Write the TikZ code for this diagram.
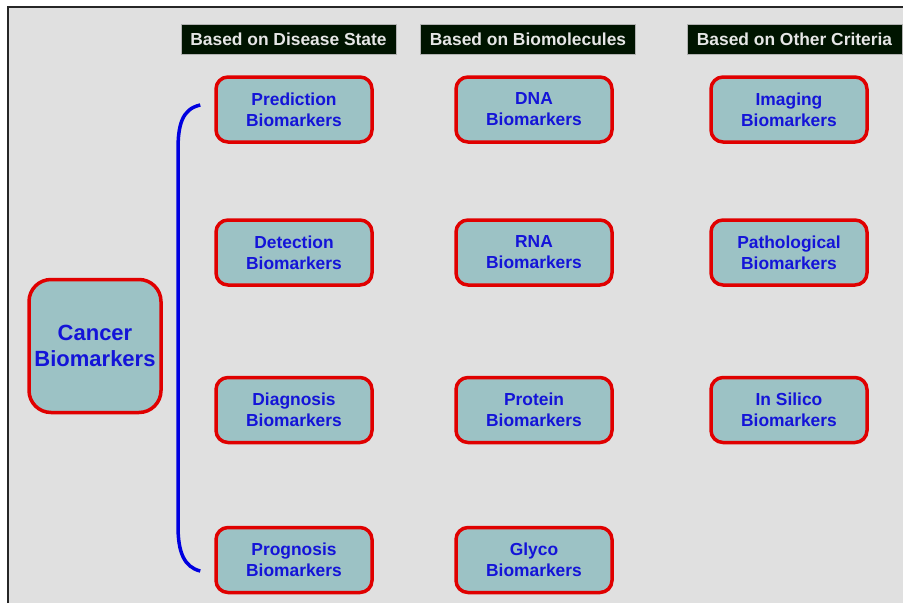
\documentclass[tikz,border=0pt]{standalone}
\usepackage{fontspec}
\setmainfont{Liberation Sans}
\usetikzlibrary{positioning,calc}
\definecolor{panelbg}{HTML}{E0E0E0}
\definecolor{cellfill}{HTML}{9CC2C5}
\definecolor{cellframe}{HTML}{E00000}
\definecolor{celltext}{HTML}{1414D8}
\definecolor{headfill}{HTML}{001400}
\definecolor{headtext}{HTML}{E6E6E6}
\definecolor{bracecolor}{HTML}{0000E0}

\begin{document}
\begin{tikzpicture}[
    x=1pt, y=-1pt,
    every node/.style={font=\bfseries},
    cellnode/.style={
        rounded corners=12pt,
        minimum width=156pt,
        minimum height=65pt,
        align=center,
        text=celltext,
        draw=cellframe,
        line width=3.5pt,
        fill=cellfill,
        font=\bfseries\fontsize{17.4}{21}\selectfont,
    },
    headnode/.style={
        minimum width=215pt,
        minimum height=30pt,
        inner sep=0pt,
        text=headtext,
        draw=gray!60,
        line width=0.6pt,
        fill=headfill,
        font=\bfseries\fontsize{17.4}{21}\selectfont,
    },
    brace/.style={line width=3.5pt,color=bracecolor},
]
\useasboundingbox (0,0) rectangle (903,603);

% === Panel ===
\fill[white] (0,0) rectangle (903,603);
\fill[panelbg] (8,7) rectangle (903,603);
\draw[line width=2pt,black!85] (8,603) -- (8,7) -- (903,7);

% === Headers ===
\node[headnode] (hdisease) at (288.5,39) {Based on Disease State};
\node[headnode] (hbiomol) at (528,39) {Based on Biomolecules};
\node[headnode] (hother) at (794.5,39) {Based on Other Criteria};

% === Root ===
\node[cellnode,rounded corners=22pt,minimum width=132pt,minimum height=133pt,
    font=\bfseries\fontsize{22}{26}\selectfont] (cancer) at (95,346) {Cancer\\Biomarkers};

% === Disease state ===
\node[cellnode] (pred) at (294,109.5) {Prediction\\Biomarkers};
\node[cellnode] (detect) at (294,252.5) {Detection\\Biomarkers};
\node[cellnode] (diag) at (294,410) {Diagnosis\\Biomarkers};
\node[cellnode] (progn) at (294,560) {Prognosis\\Biomarkers};

% === Biomolecules ===
\node[cellnode] (dna) at (534,109.5) {DNA\\Biomarkers};
\node[cellnode] (rna) at (534,252.5) {RNA\\Biomarkers};
\node[cellnode] (protein) at (534,410) {Protein\\Biomarkers};
\node[cellnode] (glyco) at (534,560) {Glyco\\Biomarkers};

% === Other criteria ===
\node[cellnode] (imaging) at (789,109.5) {Imaging\\Biomarkers};
\node[cellnode] (patho) at (789,252.5) {Pathological\\Biomarkers};
\node[cellnode] (silico) at (789,410) {In Silico\\Biomarkers};

% === Bracket ===
\coordinate (brtop) at ($(pred.west)+(-14,-4.5)$);
\coordinate (brbot) at ($(progn.west)+(-14,11)$);
\draw[brace] (brtop) .. controls (182,109) and (178,125) .. (178,150)
    -- (178,526) .. controls (178,552) and (184,567) .. (brbot);

\end{tikzpicture}
\end{document}
